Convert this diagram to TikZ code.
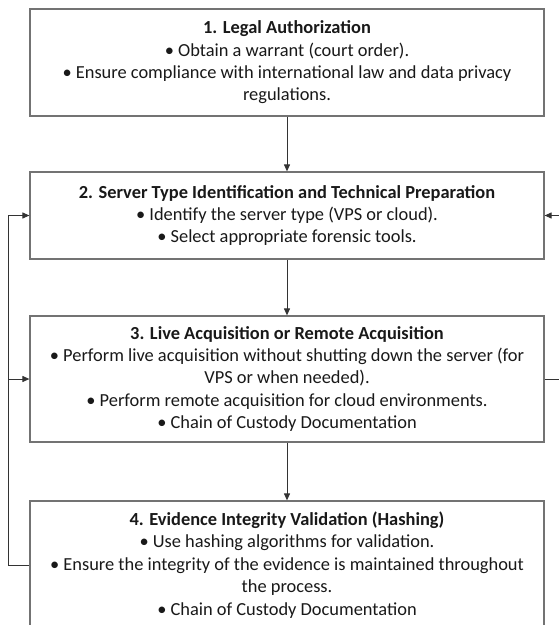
\documentclass[tikz,border=0pt]{standalone}
\usepackage{fontspec}
\setmainfont{Carlito}
\usetikzlibrary{arrows.meta}
\begin{document}
\begin{tikzpicture}[x=1pt,y=-1pt,
  stepbox/.style={draw=black!55, line width=1.2pt, fill=white,
    minimum width=514pt, align=center, inner sep=0pt,
    font=\fontsize{18.4pt}{22.4pt}\selectfont, text=black!90},
  flow/.style={draw=black!80, line width=1pt,
    -{Triangle[length=7pt,width=6pt]}}]
\useasboundingbox (0,0) rectangle (559,625);

\node[stepbox, minimum height=107pt] (b1) at (287,62.5)
  {\textbf{1. Legal Authorization}\\
   • Obtain a warrant (court order).\\
   • Ensure compliance with international law and data privacy\\
   regulations.};

\node[stepbox, minimum height=87pt] (b2) at (287,215.5)
  {\textbf{2. Server Type Identification and Technical Preparation}\\
   • Identify the server type (VPS or cloud).\\
   • Select appropriate forensic tools.};

\node[stepbox, minimum height=126pt] (b3) at (287,379)
  {\textbf{3. Live Acquisition or Remote Acquisition}\\
   • Perform live acquisition without shutting down the server (for\\
   VPS or when needed).\\
   • Perform remote acquisition for cloud environments.\\
   • Chain of Custody Documentation};

\node[stepbox, minimum height=128pt] (b4) at (287,565)
  {\textbf{4. Evidence Integrity Validation (Hashing)}\\
   • Use hashing algorithms for validation.\\
   • Ensure the integrity of the evidence is maintained throughout\\
   the process.\\
   • Chain of Custody Documentation};

% main sequence
\draw[flow] (b1) -- (b2);
\draw[flow] (b2) -- (b3);
\draw[flow] (b3) -- (b4);

% left feedback loop from step 4 back to steps 2 and 3
\coordinate (lj) at (8,379);
\draw[flow] (b4.west) -- (8,565) |- (b2.west);
\draw[flow] (lj) -- (b3.west);

% right feedback loop from step 3 back to step 2
\draw[flow] (b3.east) -- (563,379) |- (b2.east);
\end{tikzpicture}
\end{document}
